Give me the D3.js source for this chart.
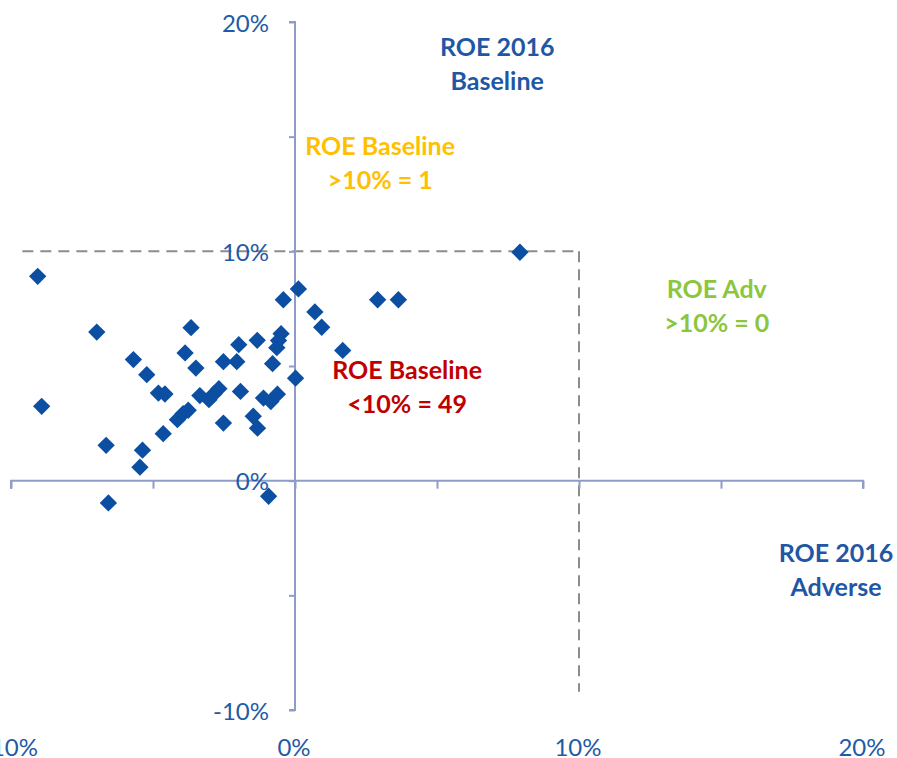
<!DOCTYPE html>
<html>
<head>
<meta charset="utf-8">
<script src="https://cdn.jsdelivr.net/npm/d3@7"></script>
<style>
    body { margin: 0; background: #fff; }
    svg { display: block; font-family: Lato, Calibri, "Open Sans", sans-serif; }
</style>
</head>
<body>
<svg id="chart" width="897" height="758"></svg>
<script>
// ROE 2016 adverse (x) vs baseline (y), in %
var roeAdverse = [
    -9.06, -6.98, -8.92, -6.65, -6.57, -5.69, -5.22, -3.66, -3.87, -3.49,
    -4.81, -4.58, -5.37, -5.46, -4.64, -4.14, -3.94, -3.76, -3.35, -3.03,
    -2.85, -2.68, -2.52, -2.05, -1.98, -1.33, -1.92, -2.52, -1.47, -1.32,
    -0.79, -1.11, -0.85, -0.62, -0.64, -0.49, -0.58, -0.41, 0.12, -0.93,
    0.02, 0.70, 0.94, 1.68, 2.91, 3.64, 7.92
];
var roeBaseline = [
    8.91, 6.48, 3.24, 1.54, -0.97, 5.28, 4.62, 6.67, 5.57, 4.91,
    3.82, 3.78, 1.33, 0.59, 2.05, 2.66, 2.92, 3.07, 3.71, 3.53,
    3.79, 4.01, 5.19, 5.19, 5.93, 6.12, 3.89, 2.51, 2.81, 2.29,
    5.10, 3.60, 3.45, 3.77, 5.80, 6.41, 6.11, 7.89, 8.36, -0.68,
    4.47, 7.36, 6.69, 5.68, 7.89, 7.89, 9.96
];

var tickLabels = [-10, 0, 10, 20];
var tickMarks = [-10, -5, 0, 5, 10, 15, 20];
var threshold = 10;

var notes = [
    { lines: ['ROE 2016', 'Baseline'], color: '#1f57a4', at: [7.12, 18.95] },
    { lines: ['ROE Baseline', '>10% = 1'], color: '#ffc000', at: [3.0, 14.65] },
    { lines: ['ROE Adv', '>10% = 0'], color: '#8cc63e', at: [14.85, 8.4] },
    { lines: ['ROE Baseline', '<10% = 49'], color: '#c00000', at: [3.95, 4.87] },
    { lines: ['ROE 2016', 'Adverse'], color: '#1f57a4', at: [19.05, -3.1] }
];

var points = roeAdverse.map(function(x, i) { return { x: x, y: roeBaseline[i] }; });

var svg = d3.select('#chart');

var x = d3.scaleLinear().domain([-10, 20]).range([11, 863]);
var y = d3.scaleLinear().domain([-10, 20]).range([710, 22]);

var axisColor = '#8e9cc8';
var labelColor = '#1f5aa6';

// dashed threshold lines
svg.append('line')
    .attr('x1', x(-9.6)).attr('x2', x(threshold))
    .attr('y1', y(threshold)).attr('y2', y(threshold))
    .attr('stroke', '#8c8c8c').attr('stroke-width', 2)
    .attr('stroke-dasharray', '11,7');

svg.append('line')
    .attr('x1', x(threshold)).attr('x2', x(threshold))
    .attr('y1', y(threshold)).attr('y2', y(-9.2))
    .attr('stroke', '#8c8c8c').attr('stroke-width', 2)
    .attr('stroke-dasharray', '11,7');

// x axis through y = 0, ticks hang down
var xAxis = d3.axisBottom(x)
    .tickValues(tickMarks)
    .tickSize(8)
    .tickFormat('');

var gx = svg.append('g')
    .attr('transform', 'translate(0,' + y(0) + ')')
    .call(xAxis);

// y axis through x = 0, ticks to the left
var yAxis = d3.axisLeft(y)
    .tickValues(tickMarks)
    .tickSize(6)
    .tickFormat('');

var gy = svg.append('g')
    .attr('transform', 'translate(' + x(0) + ',0)')
    .call(yAxis);

[gx, gy].forEach(function(g) {
    g.selectAll('path, line').attr('stroke', axisColor).attr('stroke-width', 2);
});
gx.select('.domain').attr('d', 'M' + x(-10) + ',8V0H' + x(20) + 'V8');
gy.select('.domain').attr('d', 'M-6,' + y(20) + 'H0V' + y(-10) + 'H-6');

// y tick labels beside the axis
svg.append('g').selectAll('text')
    .data(tickLabels)
    .enter()
    .append('text')
    .attr('x', x(0) - 26)
    .attr('y', function(d) { return y(d); })
    .attr('text-anchor', 'end')
    .attr('dominant-baseline', 'central')
    .attr('fill', labelColor)
    .style('font-size', '24px')
    .text(function(d) { return d + '%'; });

// x tick labels at the bottom
svg.append('g').selectAll('text')
    .data(tickLabels)
    .enter()
    .append('text')
    .attr('x', function(d) { return x(d) - 1; })
    .attr('y', 746)
    .attr('text-anchor', 'middle')
    .attr('dominant-baseline', 'central')
    .attr('fill', labelColor)
    .style('font-size', '24px')
    .text(function(d) { return d + '%'; });

// points
svg.append('g').selectAll('path')
    .data(points)
    .enter()
    .append('path')
    .attr('d', d3.symbol(d3.symbolSquare).size(150))
    .attr('transform', function(d) { return 'translate(' + x(d.x) + ',' + y(d.y) + ') rotate(45)'; })
    .attr('fill', '#0b4ea2');

// annotations
var noteG = svg.append('g').selectAll('text')
    .data(notes)
    .enter()
    .append('text')
    .attr('text-anchor', 'middle')
    .attr('fill', function(d) { return d.color; })
    .style('font-size', '25px')
    .style('font-weight', 'bold');

noteG.selectAll('tspan')
    .data(function(d) { return d.lines.map(function(l, i) { return { text: l, i: i, at: d.at }; }); })
    .enter()
    .append('tspan')
    .attr('x', function(d) { return x(d.at[0]); })
    .attr('y', function(d) { return y(d.at[1]) + d.i * 34; })
    .attr('dominant-baseline', 'central')
    .text(function(d) { return d.text; });
</script>
</body>
</html>
